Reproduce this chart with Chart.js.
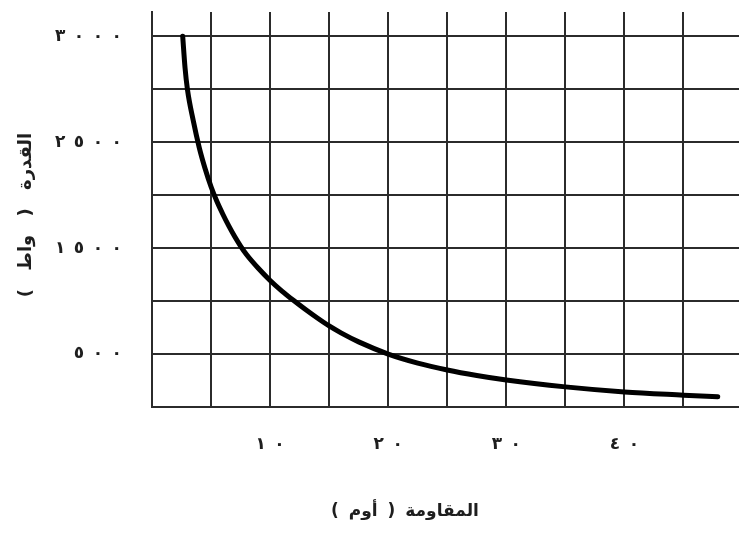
<!DOCTYPE html>
<html lang="ar">
<head>
<meta charset="utf-8">
<title>القدرة والمقاومة</title>
<script src="https://cdn.jsdelivr.net/npm/chart.js@4"></script>
<style>
  body { margin: 0; background: #fff; }
  #wrap { width: 739px; height: 543px; }
</style>
</head>
<body>
<div id="wrap"><canvas id="myChart"></canvas></div>
<script>
// المقاومة (أوم) والقدرة (واط) على المنحنى
const resistance = [2.6, 2.8, 3, 3.5, 4, 4.5, 5, 5.5, 6, 6.5, 7, 7.5, 8, 9, 10, 11, 12, 13, 14, 15, 16, 17.5, 20, 22.5, 25, 27.5, 30, 35, 40, 45, 47.9];
const power = [3500, 3200, 3000, 2700, 2450, 2250, 2080, 1940, 1820, 1710, 1610, 1520, 1440, 1310, 1195, 1095, 1005, 920, 840, 765, 700, 615, 500, 415, 350, 298, 255, 190, 142, 112, 96];

// خطوط الشبكة
const xGridValues = [0, 5, 10, 15, 20, 25, 30, 35, 40, 45];
const yGridValues = [0, 500, 1000, 1500, 2000, 2500, 3000, 3500];

// التسميات المكتوبة على المحورين
const xLabelValues = [10, 20, 30, 40];
const xLabelTexts = ['١٠', '٢٠', '٣٠', '٤٠'];
const yLabelValues = [500, 1500, 2500, 3500];
const yLabelTexts = ['٥٠٠', '١٥٠٠', '٢٥٠٠', '٣٠٠٠'];

const xTitle = 'المقاومة ( أوم )';
const yTitle = 'القدرة ( واط )';

const ink = '#1e1e1e';
const gridInk = '#2b2b2b';
const arabicFont = '"DejaVu Sans", sans-serif';

// الأرقام تكتب متباعدة؛ علامة LRM تحفظ ترتيبها من اليسار إلى اليمين
const spaced = (s) => Array.from(s).join('\u200E\u2002\u200E');

const ctx = document.getElementById('myChart').getContext('2d');

// عنوانا المحورين يرسمان يدويا بعد الرسم
const axisTitlePlugin = {
  id: 'axisTitles',
  afterDraw(chart) {
    const c = chart.ctx;
    const area = chart.chartArea;
    c.save();
    c.fillStyle = ink;
    c.textAlign = 'center';
    c.textBaseline = 'middle';

    c.font = 'bold 17px ' + arabicFont;
    c.wordSpacing = '4px';
    c.fillText(xTitle, area.left + 253, 512);

    c.font = 'bold 18px ' + arabicFont;
    c.wordSpacing = '12px';
    c.translate(26, 215);
    c.rotate(-Math.PI / 2);
    c.fillText(yTitle, 0, 0);
    c.restore();
  }
};

new Chart(ctx, {
  type: 'line',
  data: {
    datasets: [{
      data: resistance.map((r, i) => ({ x: r, y: power[i] })),
      borderColor: '#000',
      borderWidth: 5,
      borderCapStyle: 'round',
      pointRadius: 0,
      fill: false,
      cubicInterpolationMode: 'monotone'
    }]
  },
  options: {
    responsive: true,
    maintainAspectRatio: false,
    animation: false,
    layout: { padding: { top: 12, left: 0, right: 0, bottom: 0 } },
    plugins: {
      legend: { display: false },
      tooltip: { enabled: false }
    },
    scales: {
      x: {
        type: 'linear',
        min: 0,
        max: 49.7,
        afterBuildTicks: (scale) => { scale.ticks = xGridValues.map(v => ({ value: v })); },
        afterFit: (scale) => { scale.height = 136; },
        ticks: {
          autoSkip: false,
          maxRotation: 0,
          padding: 0,
          color: ink,
          font: { family: arabicFont, size: 17, weight: 'bold' },
          callback: (value) => {
            const i = xLabelValues.indexOf(value);
            return i >= 0 ? spaced(xLabelTexts[i]) : '';
          }
        },
        grid: { color: gridInk, lineWidth: 2, drawTicks: true, tickLength: 27, tickColor: 'rgba(0,0,0,0)' },
        border: { color: gridInk, width: 2 }
      },
      y: {
        type: 'linear',
        min: 0,
        max: 3730,
        afterBuildTicks: (scale) => { scale.ticks = yGridValues.map(v => ({ value: v })); },
        afterFit: (scale) => { scale.width = 152; },
        ticks: {
          autoSkip: false,
          padding: 0,
          color: ink,
          font: { family: arabicFont, size: 17, weight: 'bold' },
          callback: (value) => {
            const i = yLabelValues.indexOf(value);
            return i >= 0 ? spaced(yLabelTexts[i]) : '';
          }
        },
        grid: { color: gridInk, lineWidth: 2, drawTicks: true, tickLength: 30, tickColor: 'rgba(0,0,0,0)' },
        border: { color: gridInk, width: 2 }
      }
    }
  },
  plugins: [axisTitlePlugin]
});
</script>
</body>
</html>
